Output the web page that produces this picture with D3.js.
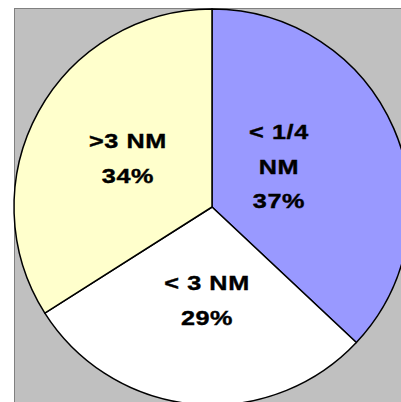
<!DOCTYPE html>
<html>
<head>
<meta charset="utf-8">
<script src="https://cdn.jsdelivr.net/npm/d3@7/dist/d3.min.js"></script>
<style>
  html, body { margin: 0; padding: 0; background: #ffffff; }
  svg { display: block; }
</style>
</head>
<body>
<script>
// Share of cases by distance band
const categories = ["< 1/4 NM", "< 3 NM", ">3 NM"];
const values = [37, 29, 34];
const labelLines = [["< 1/4", "NM", "37%"], ["< 3 NM", "29%"], [">3 NM", "34%"]];
const colors = ["#9999ff", "#ffffff", "#ffffcc"];

const W = 401, H = 402;
const cx = 212, cy = 207, R = 198;

const svg = d3.select("body").append("svg")
  .attr("width", W).attr("height", H);

// plot area
svg.append("rect")
  .attr("x", 14.5).attr("y", 8.5)
  .attr("width", W).attr("height", H)
  .attr("fill", "#c0c0c0")
  .attr("stroke", "#808080").attr("stroke-width", 1);

const pie = d3.pie().value(d => d).sort(null);
const arcs = pie(values);
const arc = d3.arc().innerRadius(0).outerRadius(R);

const g = svg.append("g").attr("transform", `translate(${cx},${cy})`);

g.selectAll("path.slice")
  .data(arcs)
  .join("path")
  .attr("class", "slice")
  .attr("d", arc)
  .attr("fill", (d, i) => colors[i])
  .attr("stroke", "#000")
  .attr("stroke-width", 1.5)
  .attr("stroke-linejoin", "round");

// label anchor radius / angle nudge per slice
const labelRadius = [77, 96, 96];
const angleNudge = [-0.11, -0.042, 0.0];
const lineGap = 34.5;
const fontSize = 21;
const widen = 1.2;   // wide label face

arcs.forEach((d, i) => {
  const a = (d.startAngle + d.endAngle) / 2 + angleNudge[i];
  const r = labelRadius[i];
  const x = r * Math.sin(a);
  const y = -r * Math.cos(a);
  const lines = labelLines[i];
  const firstBaseline = y - (lines.length - 1) * lineGap / 2 + 4.8;
  const t = g.append("text")
    .attr("transform", `translate(${x},${firstBaseline}) scale(${widen},1)`)
    .attr("text-anchor", "middle")
    .attr("font-family", "Liberation Sans, Arial, sans-serif")
    .attr("font-weight", "bold")
    .attr("font-size", fontSize)
    .attr("letter-spacing", 0.5)
    .attr("fill", "#000")
    .attr("stroke", "#000")
    .attr("stroke-width", 0.4);
  lines.forEach((ln, k) => {
    t.append("tspan")
      .attr("x", 0)
      .attr("y", k * lineGap)
      .text(ln);
  });
});
</script>
</body>
</html>
